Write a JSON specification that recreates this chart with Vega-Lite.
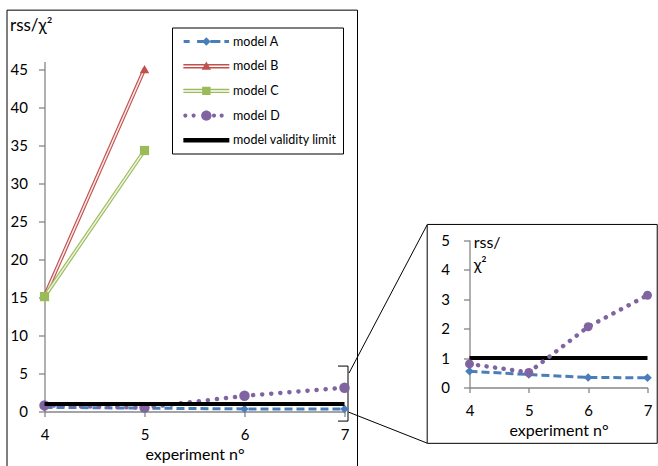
{
  "$schema": "https://vega.github.io/schema/vega-lite/v6.json",
  "padding": {"left": 6.5, "top": 9.5, "right": 0, "bottom": 0},
  "background": "white",
  "bounds": "flush",
  "spacing": 125,
  "config": {
    "font": "Lato",
    "view": {"stroke": null},
    "axis": {"grid": false, "domainColor": "#868686", "tickColor": "#868686", "domainWidth": 1.3, "tickWidth": 1.3, "labelColor": "black", "titleColor": "black", "labelFontSize": 15, "titleFontSize": 16, "titleFontWeight": "normal", "labelFont": "Lato", "titleFont": "Lato", "labelFlush": false, "labelOverlap": false}
  },
  "datasets": {
    "series": [
      {"series": "model A", "exp": 4, "value": 0.55},
      {"series": "model A", "exp": 5, "value": 0.44},
      {"series": "model A", "exp": 6, "value": 0.34},
      {"series": "model A", "exp": 7, "value": 0.33},
      {"series": "model B", "exp": 4, "value": 15.1},
      {"series": "model B", "exp": 5, "value": 45},
      {"series": "model C", "exp": 4, "value": 15.1},
      {"series": "model C", "exp": 5, "value": 34.3},
      {"series": "model D", "exp": 4, "value": 0.8},
      {"series": "model D", "exp": 5, "value": 0.51},
      {"series": "model D", "exp": 6, "value": 2.06},
      {"series": "model D", "exp": 7, "value": 3.13},
      {"series": "model validity limit", "exp": 4, "value": 1},
      {"series": "model validity limit", "exp": 7, "value": 1}
    ],
    "mainFrame": [{"x1": 3.625, "x2": 7.13, "y1": -8, "y2": 52.75}],
    "bracket": [
      {"x": 6.935, "y": 5.97, "o": 1},
      {"x": 7.035, "y": 5.97, "o": 2},
      {"x": 7.035, "y": -1.26, "o": 3},
      {"x": 6.935, "y": -1.26, "o": 4}
    ],
    "connectors": [
      {"x1": 7.045, "y1": 5.05, "x2": 7.825, "y2": 24.5},
      {"x1": 7.04, "y1": -0.08, "x2": 7.825, "y2": -4.15}
    ],
    "insetFrame": [{"x1": 3.287, "x2": 7.164, "y1": -1.894, "y2": 5.531}]
  },
  "hconcat": [
    {
      "width": 300,
      "height": 350,
      "layer": [
        {
          "data": {"name": "mainFrame"},
          "mark": {"type": "rect", "filled": false, "stroke": "black", "strokeWidth": 1, "clip": false},
          "encoding": {
            "x": {"field": "x1", "type": "quantitative", "title": "experiment n°", "scale": {"domain": [4, 7], "nice": false, "zero": false},
              "axis": {"values": [4, 5, 6, 7], "format": "d", "tickSize": 5, "labelPadding": 11, "titlePadding": 4, "labelOverlap": false}},
            "x2": {"field": "x2"},
            "y": {"field": "y1", "type": "quantitative", "title": "rss/χ²", "scale": {"domain": [0, 46], "nice": false, "zero": false},
              "axis": {"values": [0, 5, 10, 15, 20, 25, 30, 35, 40, 45], "tickCount": 10, "format": "d", "tickSize": 6, "labelPadding": 11, "labelOverlap": false, "titleAngle": 0, "titleAlign": "left", "titleBaseline": "alphabetic", "titleX": -35, "titleY": -31, "titleFontSize": 17}},
            "y2": {"field": "y2"}
          }
        },
        {
          "data": {"name": "bracket"},
          "mark": {"type": "line", "stroke": "black", "strokeWidth": 1, "clip": false},
          "encoding": {
            "x": {"field": "x", "type": "quantitative", "title": "experiment n°"},
            "y": {"field": "y", "type": "quantitative", "title": "rss/χ²"},
            "order": {"field": "o"}
          }
        },
        {
          "data": {"name": "connectors"},
          "mark": {"type": "rule", "stroke": "black", "strokeWidth": 1, "clip": false},
          "encoding": {
            "x": {"field": "x1", "type": "quantitative", "title": "experiment n°"},
            "y": {"field": "y1", "type": "quantitative", "title": "rss/χ²"},
            "x2": {"field": "x2"},
            "y2": {"field": "y2"}
          }
        },
        {
          "data": {"name": "series"},
          "transform": [{"filter": "datum.series === 'model A'"}],
          "mark": {"type": "line", "stroke": "#4A7EBB", "strokeWidth": 3, "strokeDash": [8, 4]},
          "encoding": {
            "x": {"field": "exp", "type": "quantitative", "title": "experiment n°"},
            "y": {"field": "value", "type": "quantitative", "title": "rss/χ²"}
          }
        },
        {
          "data": {"name": "series"},
          "transform": [{"filter": "datum.series === 'model A'"}],
          "mark": {"type": "point", "shape": "diamond", "filled": true, "fill": "#4A7EBB", "size": 70, "opacity": 1},
          "encoding": {
            "x": {"field": "exp", "type": "quantitative", "title": "experiment n°"},
            "y": {"field": "value", "type": "quantitative", "title": "rss/χ²"}
          }
        },
        {
          "data": {"name": "series"},
          "transform": [{"filter": "datum.series === 'model B'"}],
          "mark": {"type": "line", "stroke": "#C0504D", "strokeWidth": 3.8},
          "encoding": {
            "x": {"field": "exp", "type": "quantitative", "title": "experiment n°"},
            "y": {"field": "value", "type": "quantitative", "title": "rss/χ²"}
          }
        },
        {
          "data": {"name": "series"},
          "transform": [{"filter": "datum.series === 'model B'"}],
          "mark": {"type": "line", "stroke": "#FBE9E9", "strokeWidth": 1.5},
          "encoding": {
            "x": {"field": "exp", "type": "quantitative", "title": "experiment n°"},
            "y": {"field": "value", "type": "quantitative", "title": "rss/χ²"}
          }
        },
        {
          "data": {"name": "series"},
          "transform": [{"filter": "datum.series === 'model B'"}],
          "mark": {"type": "point", "shape": "triangle-up", "filled": true, "fill": "#C0504D", "size": 90, "opacity": 1},
          "encoding": {
            "x": {"field": "exp", "type": "quantitative", "title": "experiment n°"},
            "y": {"field": "value", "type": "quantitative", "title": "rss/χ²"}
          }
        },
        {
          "data": {"name": "series"},
          "transform": [{"filter": "datum.series === 'model C'"}],
          "mark": {"type": "line", "stroke": "#9BBB59", "strokeWidth": 3.8},
          "encoding": {
            "x": {"field": "exp", "type": "quantitative", "title": "experiment n°"},
            "y": {"field": "value", "type": "quantitative", "title": "rss/χ²"}
          }
        },
        {
          "data": {"name": "series"},
          "transform": [{"filter": "datum.series === 'model C'"}],
          "mark": {"type": "line", "stroke": "#EEF4E2", "strokeWidth": 1.5},
          "encoding": {
            "x": {"field": "exp", "type": "quantitative", "title": "experiment n°"},
            "y": {"field": "value", "type": "quantitative", "title": "rss/χ²"}
          }
        },
        {
          "data": {"name": "series"},
          "transform": [{"filter": "datum.series === 'model C'"}],
          "mark": {"type": "point", "shape": "square", "filled": true, "fill": "#9BBB59", "size": 85, "opacity": 1},
          "encoding": {
            "x": {"field": "exp", "type": "quantitative", "title": "experiment n°"},
            "y": {"field": "value", "type": "quantitative", "title": "rss/χ²"}
          }
        },
        {
          "data": {"name": "series"},
          "transform": [{"filter": "datum.series === 'model D'"}],
          "mark": {"type": "line", "stroke": "#8064A2", "strokeWidth": 4.5, "strokeDash": [0.1, 9], "strokeCap": "round"},
          "encoding": {
            "x": {"field": "exp", "type": "quantitative", "title": "experiment n°"},
            "y": {"field": "value", "type": "quantitative", "title": "rss/χ²"}
          }
        },
        {
          "data": {"name": "series"},
          "transform": [{"filter": "datum.series === 'model D'"}],
          "mark": {"type": "point", "shape": "circle", "filled": true, "fill": "#8064A2", "size": 110, "opacity": 1},
          "encoding": {
            "x": {"field": "exp", "type": "quantitative", "title": "experiment n°"},
            "y": {"field": "value", "type": "quantitative", "title": "rss/χ²"}
          }
        },
        {
          "data": {"name": "series"},
          "transform": [{"filter": "datum.series === 'model validity limit'"}],
          "mark": {"type": "line", "stroke": "black", "strokeWidth": 4},
          "encoding": {
            "x": {"field": "exp", "type": "quantitative", "title": "experiment n°"},
            "y": {"field": "value", "type": "quantitative", "title": "rss/χ²"}
          }
        },
        {
          "data": {"name": "series"},
          "transform": [{"filter": "false"}],
          "mark": {"type": "point", "filled": true, "opacity": 1, "clip": false},
          "encoding": {
            "x": {"field": "exp", "type": "quantitative", "title": "experiment n°"},
            "y": {"field": "value", "type": "quantitative", "title": "rss/χ²"},
            "color": {
              "field": "series", "type": "nominal",
              "scale": {
                "domain": ["model A", "model B", "model C", "model D", "model validity limit"],
                "range": ["#4A7EBB", "#C0504D", "#9BBB59", "#8064A2", "#000000"]
              },
              "legend": {
                "title": null, "orient": "none", "legendX": 127.5, "legendY": -34,
                "padding": 6, "strokeColor": "black", "fillColor": "white",
                "symbolSize": 235, "symbolOffset": 20.35, "symbolStrokeWidth": 0, "symbolOpacity": 1,
                "labelOffset": 18.7, "rowPadding": 9.7,
                "labelFontSize": 12.5, "labelFont": "Lato", "labelColor": "black", "labelLimit": 300
              }
            },
            "shape": {
              "field": "series", "type": "nominal",
              "scale": {
                "domain": ["model A", "model B", "model C", "model D", "model validity limit"],
                "range": [
                  "M-2.96,-0.2H-2.18V0.2H-2.96Z M-1.21,-0.2H-0.13V0.2H-1.21Z M0.52,-0.2H1.83V0.2H0.52Z M2.35,-0.2H2.96V0.2H2.35Z M-0.55,0L0,-0.55L0.55,0L0,0.55Z",
                  "M-3,-0.29H3V-0.1H-3Z M-3,0.1H3V0.29H-3Z M-0.6,0.45L0,-0.6L0.6,0.45Z",
                  "M-3,-0.29H3V-0.1H-3Z M-3,0.1H3V0.29H-3Z M-0.55,-0.55H0.55V0.55H-0.55Z",
                  "M-3.01,0A0.27,0.27,0,1,1,-2.47,0A0.27,0.27,0,1,1,-3.01,0Z M-1.93,0A0.27,0.27,0,1,1,-1.39,0A0.27,0.27,0,1,1,-1.93,0Z M-0.68,0A0.68,0.68,0,1,1,0.68,0A0.68,0.68,0,1,1,-0.68,0Z M0.73,0A0.27,0.27,0,1,1,1.27,0A0.27,0.27,0,1,1,0.73,0Z M1.73,0A0.27,0.27,0,1,1,2.27,0A0.27,0.27,0,1,1,1.73,0Z",
                  "M-3,-0.29H3V0.29H-3Z"
                ]
              },
              "legend": {
                "title": null, "orient": "none", "legendX": 127.5, "legendY": -34,
                "padding": 6, "strokeColor": "black", "fillColor": "white",
                "symbolSize": 235, "symbolOffset": 20.35, "symbolStrokeWidth": 0, "symbolOpacity": 1,
                "labelOffset": 18.7, "rowPadding": 9.7,
                "labelFontSize": 12.5, "labelFont": "Lato", "labelColor": "black", "labelLimit": 300
              }
            }
          }
        }
      ]
    },
    {
      "width": 178,
      "height": 326,
      "layer": [
        {
          "data": {"name": "insetFrame"},
          "mark": {"type": "rect", "filled": false, "stroke": "black", "strokeWidth": 1, "clip": false},
          "encoding": {
            "x": {"field": "x1", "type": "quantitative", "title": "experiment n°", "scale": {"domain": [4, 7], "nice": false, "zero": false},
              "axis": {"values": [4, 5, 6, 7], "format": "d", "tickSize": 5, "labelPadding": 11, "titlePadding": 4, "labelOverlap": false}},
            "x2": {"field": "x2"},
            "y": {"field": "y1", "type": "quantitative", "title": ["rss/", "χ²"], "scale": {"domain": [0, 5], "nice": false, "zero": false, "range": [326, 178.6]},
              "axis": {"values": [0, 1, 2, 3, 4, 5], "format": "d", "tickSize": 6, "labelPadding": 14, "labelOverlap": false, "titleAngle": 0, "titleAlign": "left", "titleBaseline": "alphabetic", "titleX": 3.7, "titleY": 185.6, "titleLineHeight": 22}},
            "y2": {"field": "y2"}
          }
        },
        {
          "data": {"name": "series"},
          "transform": [{"filter": "datum.series === 'model validity limit'"}],
          "mark": {"type": "line", "stroke": "black", "strokeWidth": 4},
          "encoding": {
            "x": {"field": "exp", "type": "quantitative", "title": "experiment n°"},
            "y": {"field": "value", "type": "quantitative", "title": ["rss/", "χ²"]}
          }
        },
        {
          "data": {"name": "series"},
          "transform": [{"filter": "datum.series === 'model A'"}],
          "mark": {"type": "line", "stroke": "#4A7EBB", "strokeWidth": 3, "strokeDash": [8, 4]},
          "encoding": {
            "x": {"field": "exp", "type": "quantitative", "title": "experiment n°"},
            "y": {"field": "value", "type": "quantitative", "title": ["rss/", "χ²"]}
          }
        },
        {
          "data": {"name": "series"},
          "transform": [{"filter": "datum.series === 'model A'"}],
          "mark": {"type": "point", "shape": "diamond", "filled": true, "fill": "#4A7EBB", "size": 75, "opacity": 1},
          "encoding": {
            "x": {"field": "exp", "type": "quantitative", "title": "experiment n°"},
            "y": {"field": "value", "type": "quantitative", "title": ["rss/", "χ²"]}
          }
        },
        {
          "data": {"name": "series"},
          "transform": [{"filter": "datum.series === 'model D'"}],
          "mark": {"type": "line", "stroke": "#8064A2", "strokeWidth": 4.5, "strokeDash": [0.1, 8.5], "strokeCap": "round"},
          "encoding": {
            "x": {"field": "exp", "type": "quantitative", "title": "experiment n°"},
            "y": {"field": "value", "type": "quantitative", "title": ["rss/", "χ²"]}
          }
        },
        {
          "data": {"name": "series"},
          "transform": [{"filter": "datum.series === 'model D'"}],
          "mark": {"type": "point", "shape": "circle", "filled": true, "fill": "#8064A2", "size": 80, "opacity": 1},
          "encoding": {
            "x": {"field": "exp", "type": "quantitative", "title": "experiment n°"},
            "y": {"field": "value", "type": "quantitative", "title": ["rss/", "χ²"]}
          }
        }
      ]
    }
  ]
}
